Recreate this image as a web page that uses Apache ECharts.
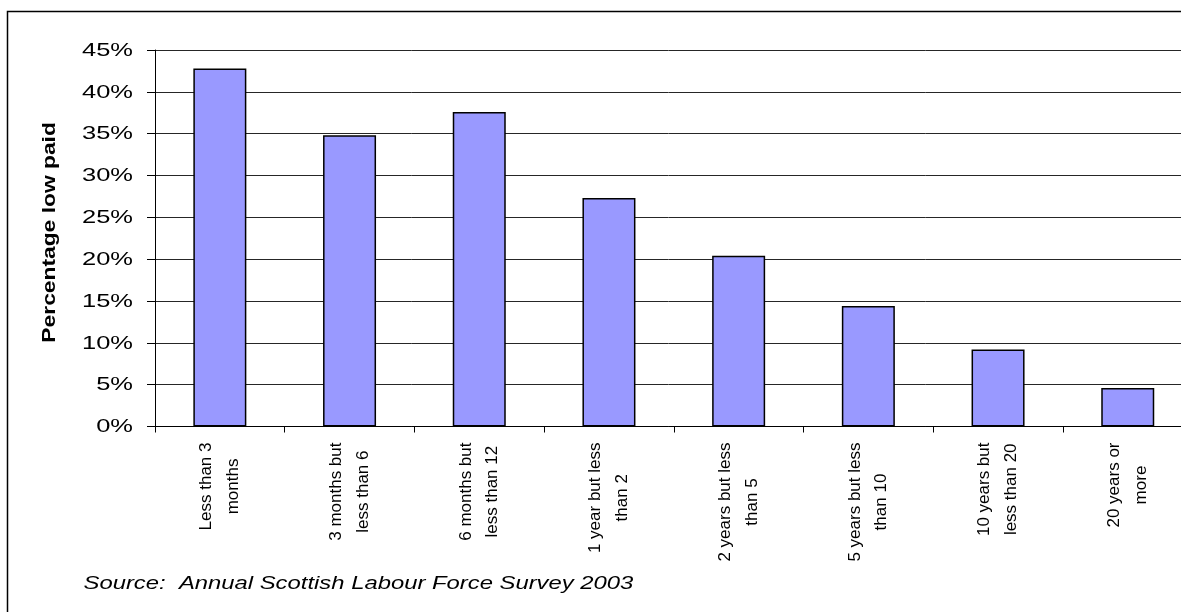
<!DOCTYPE html>
<html>
<head>
<meta charset="utf-8">
<title>Percentage low paid by length of time with employer</title>
<script src="https://cdn.jsdelivr.net/npm/echarts@6/dist/echarts.min.js"></script>
<style>
  html, body { margin: 0; padding: 0; background: #ffffff; }
  #chart { width: 1181px; height: 612px; }
</style>
</head>
<body>
<div id="chart"></div>
<script>
// Length of time with current employer (two-line category labels)
const categories = [
  'Less than 3\nmonths',
  '3 months but\nless than 6',
  '6 months but\nless than 12',
  '1 year but less\nthan 2',
  '2 years but less\nthan 5',
  '5 years but less\nthan 10',
  '10 years but\nless than 20',
  '20 years or\nmore'
];

// Share of employees who are low paid, in percent
const lowPaidPct = [42.8, 34.8, 37.6, 27.3, 20.4, 14.4, 9.2, 4.6];

// Value-axis ticks (percent)
const yTicks = [0, 5, 10, 15, 20, 25, 30, 35, 40, 45];

const yTitle = 'Percentage low paid';
const sourceNote = 'Source:  Annual Scottish Labour Force Survey 2003';

const FONT = "'Liberation Sans', Arial, sans-serif";

const chart = echarts.init(document.getElementById('chart'), null, { renderer: 'canvas' });

const option = {
  animation: false,
  backgroundColor: '#ffffff',
  grid: {
    left: 155,
    top: 50,
    width: 1037.6,
    height: 376.5,
    containLabel: false,
    outerBoundsMode: 'none'
  },
  xAxis: {
    type: 'category',
    data: categories,
    boundaryGap: true,
    axisLine: { show: true, lineStyle: { color: '#000000', width: 1 } },
    axisTick: { show: true, alignWithLabel: false, interval: 0, length: 6, lineStyle: { color: '#000000', width: 1 } },
    axisLabel: {
      interval: 0,
      rotate: 90,
      margin: 16,
      color: '#000000',
      fontFamily: FONT,
      fontSize: 17,
      formatter: (v) => v.split('\n').map(s => '{c|' + s + '}').join('\n'),
      rich: {
        c: { align: 'center', fontFamily: FONT, fontSize: 17, lineHeight: 26.7, color: '#000000' }
      }
    },
    splitLine: { show: false }
  },
  yAxis: {
    type: 'value',
    min: yTicks[0],
    max: yTicks[yTicks.length - 1],
    interval: yTicks[1] - yTicks[0],
    axisLine: { show: true, lineStyle: { color: '#000000', width: 1 } },
    axisTick: { show: true, length: 8, lineStyle: { color: '#000000', width: 1 } },
    axisLabel: { show: false },
    splitLine: { show: true, lineStyle: { color: '#262626', width: 1 } }
  },
  series: [{
    type: 'bar',
    data: lowPaidPct,
    barWidth: 53,
    itemStyle: {
      color: '#9999ff',
      borderColor: '#000000',
      borderWidth: 1.5
    },
    emphasis: { disabled: true }
  }],
  graphic: [
    // chart-area frame
    {
      type: 'rect',
      silent: true,
      z: 0,
      shape: { x: 7.5, y: 11.5, width: 1400, height: 900 },
      style: { fill: null, stroke: '#000000', lineWidth: 1.5 }
    }
  ]
};

chart.setOption(option);

// Tick labels, axis title and source note drawn as wide text
const extra = [];
yTicks.forEach((v) => {
  const py = chart.convertToPixel({ yAxisIndex: 0 }, v);
  extra.push({
    type: 'text',
    silent: true,
    x: 133,
    y: py + 0.8,
    scaleX: 1.44,
    style: {
      text: v + '%',
      x: 0, y: 0,
      align: 'right',
      verticalAlign: 'middle',
      fontFamily: FONT,
      fontSize: 17.7,
      fill: '#000000'
    }
  });
});

extra.push({
  type: 'text',
  silent: true,
  x: 50,
  y: 232.4,
  rotation: Math.PI / 2,
  scaleX: 1.2,
  style: {
    text: yTitle,
    x: 0, y: 0,
    align: 'center',
    verticalAlign: 'middle',
    fontFamily: FONT,
    fontWeight: 'bold',
    fontSize: 19,
    fill: '#000000'
  }
});

extra.push({
  type: 'text',
  silent: true,
  x: 83.5,
  y: 584,
  scaleX: 1.362,
  style: {
    text: sourceNote,
    x: 0, y: 0,
    align: 'left',
    verticalAlign: 'middle',
    fontFamily: FONT,
    fontStyle: 'italic',
    fontSize: 17.5,
    fill: '#000000'
  }
});

chart.setOption({ graphic: option.graphic.concat(extra) });
</script>
</body>
</html>
